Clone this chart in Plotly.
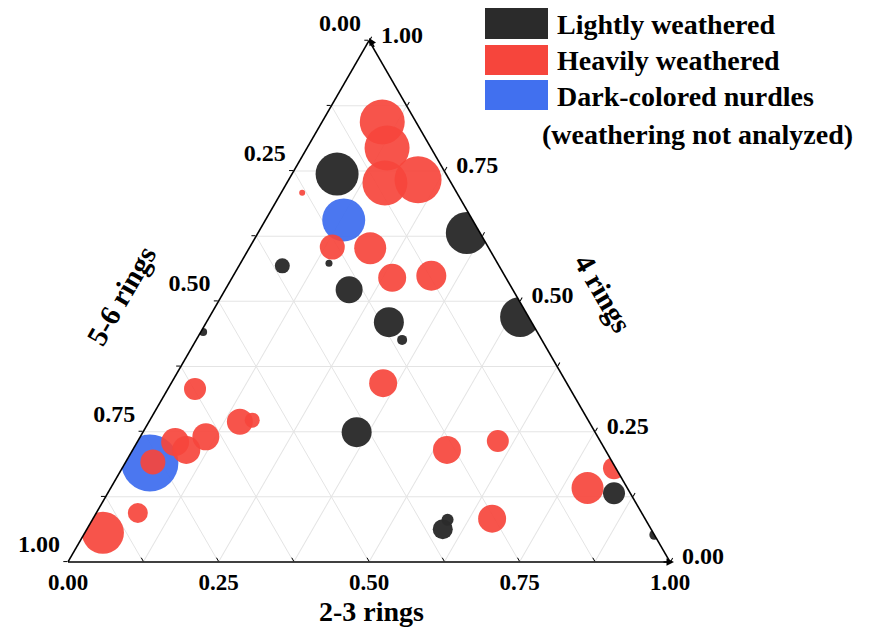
import plotly.graph_objects as go

# ---- data (fractions: 4 rings = top, 5-6 rings = bottom-left, 2-3 rings = bottom-right)
light_4 = [0.744, 0.631, 0.573, 0.568, 0.522, 0.460, 0.426, 0.470, 0.441, 0.249, 0.063, 0.081, 0.132, 0.052]
light_56 = [0.181, 0.022, 0.280, 0.360, 0.272, 0.237, 0.232, 0.014, 0.555, 0.396, 0.346, 0.329, 0.027, 0.000]
light_23 = [0.075, 0.347, 0.147, 0.072, 0.206, 0.303, 0.342, 0.516, 0.004, 0.355, 0.591, 0.590, 0.841, 0.948]
light_size = [43, 42, 7, 15, 27, 30, 10, 40, 8, 30, 20, 12, 22, 10]

heavy_4 = [0.844, 0.794, 0.727, 0.733, 0.708, 0.604, 0.602, 0.545, 0.549, 0.343, 0.215, 0.232,
           0.083, 0.180, 0.142, 0.332, 0.269, 0.272, 0.240, 0.230, 0.215, 0.192, 0.094, 0.056]
heavy_56 = [0.056, 0.073, 0.110, 0.052, 0.257, 0.259, 0.197, 0.189, 0.122, 0.305, 0.263, 0.170,
            0.254, 0.003, 0.066, 0.623, 0.580, 0.558, 0.651, 0.707, 0.696, 0.763, 0.837, 0.914]
heavy_23 = [0.100, 0.133, 0.163, 0.215, 0.035, 0.137, 0.201, 0.266, 0.329, 0.352, 0.522, 0.598,
            0.663, 0.817, 0.792, 0.045, 0.151, 0.170, 0.109, 0.063, 0.089, 0.045, 0.069, 0.030]
heavy_size = [45, 45, 45, 47, 6, 25, 32, 28, 30, 28, 28, 22,
              28, 22, 32, 22, 26, 15, 27, 28, 28, 25, 20, 42]

dark_4 = [0.656, 0.190]
dark_56 = [0.214, 0.769]
dark_23 = [0.130, 0.041]
dark_size = [43, 57]

tick_vals = [i / 8 for i in range(9)]
tick_labels = [f"{1 - v:.2f}" if i % 2 == 0 else "" for i, v in enumerate(tick_vals)]

legend_labels = ["Lightly weathered", "Heavily weathered", "Dark-colored nurdles"]
legend_note = "(weathering not analyzed)"

BLACK = "#2b2b2b"
RED = "#f6453c"
BLUE = "#4170ef"
FONT = "Liberation Serif"

W, H = 871, 629
OFF = 8  # page offset of the plot div


def px(x, y):
    return (x - OFF) / W, 1 - (y - OFF) / H


fig = go.Figure()
fig.add_trace(go.Scatterternary(a=dark_4, b=dark_56, c=dark_23, mode="markers",
                                marker=dict(size=dark_size, color=BLUE, opacity=0.95, line=dict(width=0)),
                                name=legend_labels[2], showlegend=False))
fig.add_trace(go.Scatterternary(a=heavy_4, b=heavy_56, c=heavy_23, mode="markers",
                                marker=dict(size=heavy_size, color=RED, opacity=0.92, line=dict(width=0)),
                                name=legend_labels[1], showlegend=False))
fig.add_trace(go.Scatterternary(a=light_4, b=light_56, c=light_23, mode="markers",
                                marker=dict(size=light_size, color=BLACK, opacity=0.97, line=dict(width=0)),
                                name=legend_labels[0], showlegend=False))


def axis(ticktext, ticks="outside", size=24):
    return dict(
        tickmode="array", tickvals=tick_vals, ticktext=ticktext,
        ticks=ticks, ticklen=4, tickwidth=1.2, tickcolor="black",
        linecolor="black", linewidth=1.6, showline=True,
        showgrid=True, gridcolor="#e4e4e4", gridwidth=1,
        tickfont=dict(family=FONT, size=size, color="black", weight="bold"),
        title=dict(text=""), min=0,
    )


# left-edge labels sit a little above their ticks in the reference
a_text = [t + "<br> " if t else "" for t in tick_labels]
# right-edge labels sit a little further from the edge
c_text = ["&nbsp;" + t if t else "" for t in tick_labels]

dx0, dy0 = px(68, 562)
dx1, dy1 = px(670, 40.6)
fig.update_layout(
    width=W, height=H,
    margin=dict(l=0, r=0, t=0, b=0),
    paper_bgcolor="white",
    ternary=dict(
        sum=1,
        domain=dict(x=[dx0, dx1], y=[dy0, dy1]),
        bgcolor="white",
        aaxis=axis(a_text), baxis=axis(tick_labels, "inside", 23), caxis=axis(c_text),
    ),
    showlegend=False,
)

annotations = []
title_font = dict(family=FONT, size=29, color="black", weight="bold")
tx, ty = px(371, 611)
annotations.append(dict(x=tx, y=ty, xref="paper", yref="paper", text="2-3 rings", showarrow=False,
                        font=dict(family=FONT, size=28, color="black", weight="bold"),
                        xanchor="center", yanchor="middle"))
tx, ty = px(121, 296)
annotations.append(dict(x=tx, y=ty, xref="paper", yref="paper", text="5-6 rings", showarrow=False,
                        textangle=-60, font=title_font, xanchor="center", yanchor="middle"))
tx, ty = px(603, 293)
annotations.append(dict(x=tx, y=ty, xref="paper", yref="paper", text="4 rings", showarrow=False,
                        textangle=60, font=title_font, xanchor="center", yanchor="middle"))

# small arrowheads at the ends of the bottom and right axes
tx, ty = px(674, 562)
annotations.append(dict(x=tx, y=ty, xref="paper", yref="paper", text="", showarrow=True,
                        ax=-12, ay=0, arrowhead=2, arrowsize=1, arrowwidth=1.5, arrowcolor="black"))
tx, ty = px(369, 38)
annotations.append(dict(x=tx, y=ty, xref="paper", yref="paper", text="", showarrow=True,
                        ax=6, ay=10.4, arrowhead=2, arrowsize=1, arrowwidth=1.5, arrowcolor="black"))

# custom legend
shapes = []
legend_font = dict(family=FONT, size=28, color="black", weight="bold")
swatch_rows = [(8, 39, BLACK), (45, 75, RED), (80, 110, BLUE)]
text_rows = [25, 61, 97]
for (y0, y1, col), lab, ty_ in zip(swatch_rows, legend_labels, text_rows):
    x0p, y0p = px(485, y1)
    x1p, y1p = px(548, y0)
    shapes.append(dict(type="rect", xref="paper", yref="paper", x0=x0p, x1=x1p, y0=y0p, y1=y1p,
                       fillcolor=col, line=dict(width=0)))
    lx, ly = px(555, ty_)
    annotations.append(dict(x=lx, y=ly, xref="paper", yref="paper", text=lab, showarrow=False,
                            font=legend_font, xanchor="left", yanchor="middle"))
lx, ly = px(540, 135)
annotations.append(dict(x=lx, y=ly, xref="paper", yref="paper", text=legend_note, showarrow=False,
                        font=legend_font, xanchor="left", yanchor="middle"))

fig.update_layout(annotations=annotations, shapes=shapes)
fig.write_html("out.html")
